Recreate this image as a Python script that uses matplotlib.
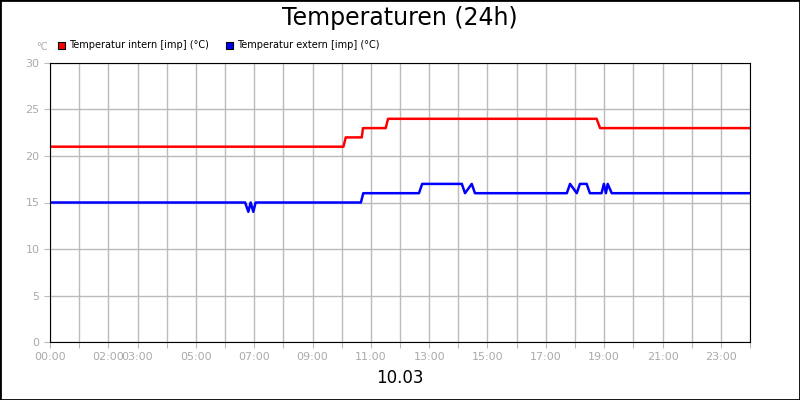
import matplotlib
matplotlib.use("Agg")
import matplotlib.pyplot as plt
from matplotlib.patches import Rectangle

red_t = [0, 10.06, 10.14, 10.69, 10.73, 11.51, 11.59, 18.74, 18.86, 24]
red_v = [21, 21, 22, 22, 23, 23, 24, 24, 23, 23]
blue_t = [0, 6.69, 6.80, 6.88, 6.97, 7.05, 10.66, 10.74, 12.65, 12.76, 14.12, 14.23, 14.46, 14.57,
          17.72, 17.83, 18.06, 18.17, 18.40, 18.51, 18.91, 18.99, 19.06, 19.12, 19.26, 24]
blue_v = [15, 15, 14, 15, 14, 15, 15, 16, 16, 17, 17, 16, 17, 16,
          16, 17, 16, 17, 17, 16, 16, 17, 16, 17, 16, 16]
tick_hours = list(range(25))
tick_labels = {0: "00:00", 2: "02:00", 3: "03:00", 5: "05:00", 7: "07:00", 9: "09:00", 11: "11:00",
               13: "13:00", 15: "15:00", 17: "17:00", 19: "19:00", 21: "21:00", 23: "23:00"}
yticks = [0, 5, 10, 15, 20, 25, 30]

fig = plt.figure(figsize=(8, 4), dpi=100)
fig.patches.append(Rectangle((0, 0), 1, 1, transform=fig.transFigure, fill=False, ec="black", lw=2))
ax = fig.add_axes([50/800, 1-342/400, 700/800, 279/400])
ax.plot(red_t, red_v, color="#ff0000", lw=1.8)
ax.plot(blue_t, blue_v, color="#0000ff", lw=1.8)
ax.set_xlim(0, 24)
ax.set_ylim(0, 30)
ax.set_xticks(tick_hours)
ax.set_xticklabels([tick_labels.get(h, "") for h in tick_hours])
ax.set_yticks(yticks)
ax.grid(True, color="#bbbbbb", lw=1)
ax.set_axisbelow(True)
ax.tick_params(colors="#bbbbbb", labelcolor="#aaaaaa", labelsize=8, length=4)
for s in ax.spines.values():
    s.set_color("black")
fig.text(0.5, 1-18/400, "Temperaturen (24h)", ha="center", va="center", fontsize=17)
fig.text(0.5, 1-378/400, "10.03", ha="center", va="center", fontsize=12)
fig.text(42/800, 1-47/400, "°C", ha="center", va="center", fontsize=7, color="#aaaaaa")
for x0, col, lab in [(58, "#ff0000", "Temperatur intern [imp] (°C)"), (226, "#0000ff", "Temperatur extern [imp] (°C)")]:
    fig.patches.append(Rectangle((x0/800, 1-49/400), 7/800, 7/400, transform=fig.transFigure,
                                 fc=col, ec="black", lw=0.8))
    fig.text((x0+11)/800, 1-45/400, lab, va="center", fontsize=7)
fig.savefig("out.png", dpi=100)
